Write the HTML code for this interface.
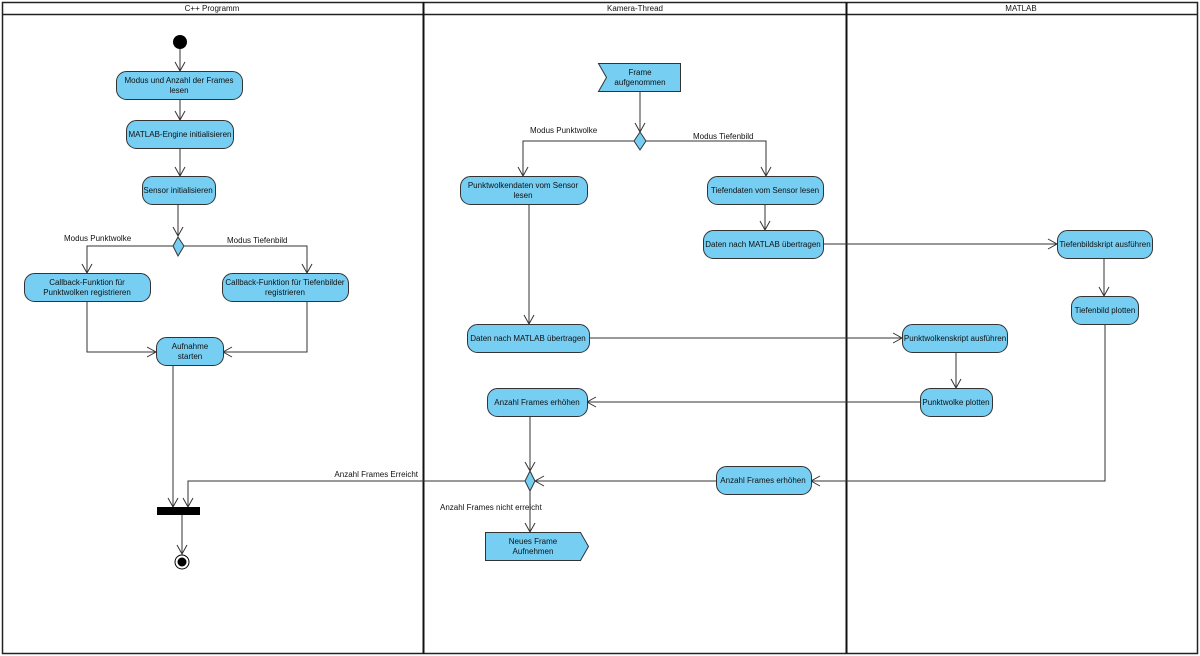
<!DOCTYPE html>
<html><head><meta charset="utf-8"><style>
html,body{margin:0;padding:0;background:#fff;}
svg{display:block;}
text{font-family:"Liberation Sans",sans-serif;font-size:8px;fill:#111;}
</style></head><body>
<svg width="1200" height="656" viewBox="0 0 1200 656" xmlns="http://www.w3.org/2000/svg">
<defs>
<marker id="a" markerWidth="12" markerHeight="12" refX="10" refY="6" orient="auto" markerUnits="userSpaceOnUse">
<path d="M1,1 L10,6 L1,11" fill="none" stroke="#333" stroke-width="1"/>
</marker>
</defs>
<rect x="2.5" y="2.5" width="1195" height="651" fill="#fff" stroke="#222" stroke-width="1.5"/>
<line x1="2" y1="14.5" x2="1198" y2="14.5" stroke="#222" stroke-width="1.5"/>
<line x1="423.5" y1="2" x2="423.5" y2="654" stroke="#111" stroke-width="2"/>
<line x1="846.5" y1="2" x2="846.5" y2="654" stroke="#111" stroke-width="2"/>
<text x="212" y="11" text-anchor="middle">C++ Programm</text>
<text x="635" y="11" text-anchor="middle">Kamera-Thread</text>
<text x="1021" y="11" text-anchor="middle">MATLAB</text>

<g fill="none" stroke="#333" stroke-width="1">
<line x1="180" y1="49" x2="180" y2="71" marker-end="url(#a)"/>
<line x1="180" y1="99" x2="180" y2="120" marker-end="url(#a)"/>
<line x1="180" y1="148" x2="180" y2="176" marker-end="url(#a)"/>
<line x1="178" y1="204" x2="178" y2="236" marker-end="url(#a)"/>
<polyline points="173,246 87,246 87,273" marker-end="url(#a)"/>
<polyline points="184,246 307,246 307,273" marker-end="url(#a)"/>
<polyline points="87,301 87,352 156,352" marker-end="url(#a)"/>
<polyline points="307,301 307,352 223,352" marker-end="url(#a)"/>
<line x1="173" y1="365" x2="173" y2="507" marker-end="url(#a)"/>
<polyline points="525,481 188,481 188,507" marker-end="url(#a)"/>
<line x1="182" y1="514" x2="182" y2="554" marker-end="url(#a)"/>

<line x1="640" y1="91" x2="640" y2="132" marker-end="url(#a)"/>
<polyline points="634,141 523,141 523,176" marker-end="url(#a)"/>
<polyline points="646,141 766,141 766,176" marker-end="url(#a)"/>
<line x1="765" y1="204" x2="765" y2="230" marker-end="url(#a)"/>
<line x1="529" y1="204" x2="529" y2="324" marker-end="url(#a)"/>
<line x1="823" y1="244" x2="1057" y2="244" marker-end="url(#a)"/>
<line x1="589" y1="338" x2="902" y2="338" marker-end="url(#a)"/>
<line x1="1104" y1="258" x2="1104" y2="296" marker-end="url(#a)"/>
<line x1="956" y1="352" x2="956" y2="388" marker-end="url(#a)"/>
<line x1="920" y1="402" x2="587" y2="402" marker-end="url(#a)"/>
<polyline points="1105,324 1105,481 811,481" marker-end="url(#a)"/>
<line x1="530" y1="416" x2="530" y2="471" marker-end="url(#a)"/>
<line x1="716" y1="481" x2="535" y2="481" marker-end="url(#a)"/>
<line x1="530" y1="491" x2="530" y2="532" marker-end="url(#a)"/>
</g>

<circle cx="180" cy="42" r="7" fill="#000"/>
<rect x="157" y="507" width="43" height="8" fill="#000"/>
<circle cx="182" cy="562" r="7" fill="#fff" stroke="#000" stroke-width="1"/>
<circle cx="182" cy="562" r="4.5" fill="#000"/>

<g fill="#76CEF3" stroke="#333" stroke-width="1">
<rect x="116.5" y="71.5" width="126" height="28" rx="10"/>
<rect x="126.5" y="120.5" width="107" height="28" rx="10"/>
<rect x="142.5" y="176.5" width="73" height="28" rx="10"/>
<polygon points="178,237 184,246 178,256 173,246"/>
<rect x="24.5" y="273.5" width="126" height="28" rx="10"/>
<rect x="222.5" y="273.5" width="126" height="28" rx="10"/>
<rect x="156.5" y="337.5" width="67" height="28" rx="10"/>

<polygon points="598.5,63.5 680.5,63.5 680.5,91.5 598.5,91.5 606.5,77.5"/>
<polygon points="640,132 646,141 640,150 634,141"/>
<rect x="460.5" y="176.5" width="127" height="28" rx="10"/>
<rect x="707.5" y="176.5" width="116" height="28" rx="10"/>
<rect x="703.5" y="230.5" width="120" height="28" rx="10"/>
<rect x="467.5" y="324.5" width="122" height="28" rx="10"/>
<rect x="487.5" y="388.5" width="100" height="28" rx="10"/>
<polygon points="530,471 535,481 530,491 525,481"/>
<rect x="716.5" y="466.5" width="95" height="28" rx="10"/>
<polygon points="485.5,532.5 580.5,532.5 588.5,546.5 580.5,560.5 485.5,560.5"/>

<rect x="1057.5" y="230.5" width="95" height="28" rx="10"/>
<rect x="1071.5" y="296.5" width="67" height="28" rx="10"/>
<rect x="902.5" y="324.5" width="105" height="28" rx="10"/>
<rect x="920.5" y="388.5" width="72" height="28" rx="10"/>
</g>

<g text-anchor="middle">
<text x="179" y="83">Modus und Anzahl der Frames</text>
<text x="179" y="93">lesen</text>
<text x="180" y="137">MATLAB-Engine initialisieren</text>
<text x="178" y="193">Sensor initialisieren</text>
<text x="87" y="285">Callback-Funktion für</text>
<text x="87" y="295">Punktwolken registrieren</text>
<text x="285" y="285">Callback-Funktion für Tiefenbilder</text>
<text x="285" y="295">registrieren</text>
<text x="190" y="349">Aufnahme</text>
<text x="190" y="359">starten</text>

<text x="640" y="75">Frame</text>
<text x="640" y="85">aufgenommen</text>
<text x="523" y="188">Punktwolkendaten vom Sensor</text>
<text x="523" y="198">lesen</text>
<text x="765" y="193">Tiefendaten vom Sensor lesen</text>
<text x="763" y="247">Daten nach MATLAB übertragen</text>
<text x="528" y="341">Daten nach MATLAB übertragen</text>
<text x="537" y="405">Anzahl Frames erhöhen</text>
<text x="763" y="483">Anzahl Frames erhöhen</text>
<text x="533" y="544">Neues Frame</text>
<text x="533" y="554">Aufnehmen</text>

<text x="1105" y="247">Tiefenbildskript ausführen</text>
<text x="1105" y="313">Tiefenbild plotten</text>
<text x="955" y="341">Punktwolkenskript ausführen</text>
<text x="956" y="405">Punktwolke plotten</text>
</g>

<text x="64" y="241">Modus Punktwolke</text>
<text x="227" y="243">Modus Tiefenbild</text>
<text x="530" y="133">Modus Punktwolke</text>
<text x="693" y="139">Modus Tiefenbild</text>
<text x="418" y="477" text-anchor="end">Anzahl Frames Erreicht</text>
<text x="440" y="510">Anzahl Frames nicht erreicht</text>
</svg>
</body></html>
